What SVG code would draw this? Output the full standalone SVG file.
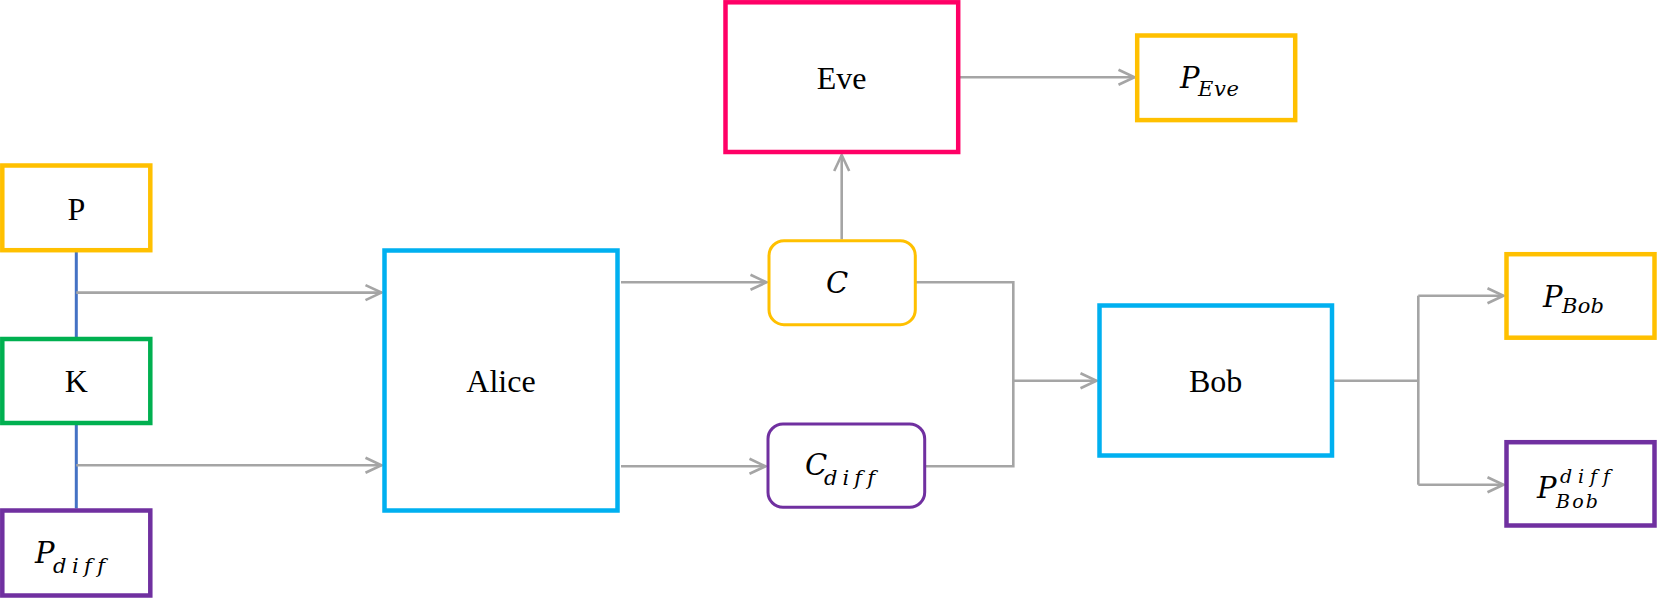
<svg xmlns="http://www.w3.org/2000/svg" width="1657" height="598" viewBox="0 0 1657 598">
<style>
.box{fill:#fff;stroke-width:4.5}
.rbox{fill:#fff;stroke-width:3}
.y{stroke:#FFC000}.g{stroke:#00B050}.p{stroke:#7030A0}.b{stroke:#00B0F0}.r{stroke:#FF0066}
.t{font-family:"Liberation Serif","Times New Roman",serif;font-size:32px;fill:#000;text-anchor:middle}
.m{font-family:"DejaVu Serif","Liberation Serif",serif;font-style:italic;fill:#000;font-variant-ligatures:none;font-feature-settings:"liga" 0}
.mb{font-size:29px}
.ms{font-size:21px}
.ss{font-size:19px}
.c{fill:none;stroke:#A5A5A5;stroke-width:2.6}
.bl{fill:none;stroke:#4472C4;stroke-width:3}
</style>
<defs>
<marker id="ah" markerUnits="userSpaceOnUse" markerWidth="24" markerHeight="24" viewBox="-20 -12 24 24" refX="0" refY="0" orient="auto">
<path d="M-16,-7.5 L0,0 L-16,7.5" fill="none" stroke="#A5A5A5" stroke-width="2.6"/>
</marker>
</defs>
<g id="connectors">
<path class="bl" d="M76.3,252 V337 M76.3,425 V508.5"/>
<path class="c" d="M76.3,292.6 H381.5" marker-end="url(#ah)"/>
<path class="c" d="M76.3,465.3 H381.5" marker-end="url(#ah)"/>
<path class="c" d="M621,282.3 H766.5" marker-end="url(#ah)"/>
<path class="c" d="M621,466.3 H765.5" marker-end="url(#ah)"/>
<path class="c" d="M841.7,239.5 V155" marker-end="url(#ah)"/>
<path class="c" d="M959,77.3 H1134.5" marker-end="url(#ah)"/>
<path class="c" d="M916,282.3 H1013.3 V466.3 H926"/>
<path class="c" d="M1013.3,380.7 H1096.5" marker-end="url(#ah)"/>
<path class="c" d="M1334,380.7 H1418.3"/>
<path class="c" d="M1418.3,295.7 V484.7"/>
<path class="c" d="M1418.3,295.7 H1503.5" marker-end="url(#ah)"/>
<path class="c" d="M1418.3,484.7 H1503.5" marker-end="url(#ah)"/>
</g>
<g id="P">
<rect class="box y" x="2.3" y="165.5" width="148" height="84.7"/>
<text class="t" x="76.3" y="220">P</text>
</g>
<g id="K">
<rect class="box g" x="2.3" y="339" width="148" height="84"/>
<text class="t" x="76.3" y="392">K</text>
</g>
<g id="Pdiff">
<rect class="box p" x="2.3" y="510.5" width="148" height="85"/>
<text class="m"><tspan class="mb" x="35" y="563.3">P</tspan><tspan class="ms" x="53" y="572.7" textLength="52" lengthAdjust="spacing">diff</tspan></text>
</g>
<g id="Alice">
<rect class="box b" x="384.5" y="250.5" width="233" height="260"/>
<text class="t" x="501" y="392">Alice</text>
</g>
<g id="C">
<rect class="rbox y" x="769" y="240.7" width="146.3" height="84" rx="15"/>
<text class="m mb" x="837" y="293" text-anchor="middle">C</text>
</g>
<g id="Cdiff">
<rect class="rbox p" x="768" y="424" width="156.7" height="83.3" rx="15"/>
<text class="m"><tspan class="mb" x="805" y="475">C</tspan><tspan class="ms" x="824" y="485" textLength="51" lengthAdjust="spacing">diff</tspan></text>
</g>
<g id="Eve">
<rect class="box r" x="725.5" y="2.3" width="232.7" height="149.7"/>
<text class="t" x="841.5" y="89">Eve</text>
</g>
<g id="PEve">
<rect class="box y" x="1137.2" y="35.5" width="158" height="84.6"/>
<text class="m"><tspan class="mb" x="1180" y="88.3">P</tspan><tspan class="ms" x="1198" y="95.7" textLength="41" lengthAdjust="spacing">Eve</tspan></text>
</g>
<g id="Bob">
<rect class="box b" x="1099.5" y="305.5" width="232.5" height="150"/>
<text class="t" x="1215.7" y="392">Bob</text>
</g>
<g id="PBob">
<rect class="box y" x="1506.5" y="254.2" width="148" height="83.5"/>
<text class="m"><tspan class="mb" x="1543" y="307.3">P</tspan><tspan class="ms" x="1562" y="313.3" textLength="42" lengthAdjust="spacing">Bob</tspan></text>
</g>
<g id="PBobdiff">
<rect class="box p" x="1506.5" y="442.2" width="148" height="83.3"/>
<text class="m"><tspan class="mb" x="1537" y="497.7">P</tspan><tspan class="ss" x="1560" y="482.5" textLength="50" lengthAdjust="spacing">diff</tspan><tspan class="ss" x="1556" y="508" textLength="42" lengthAdjust="spacing">Bob</tspan></text>
</g>
</svg>
